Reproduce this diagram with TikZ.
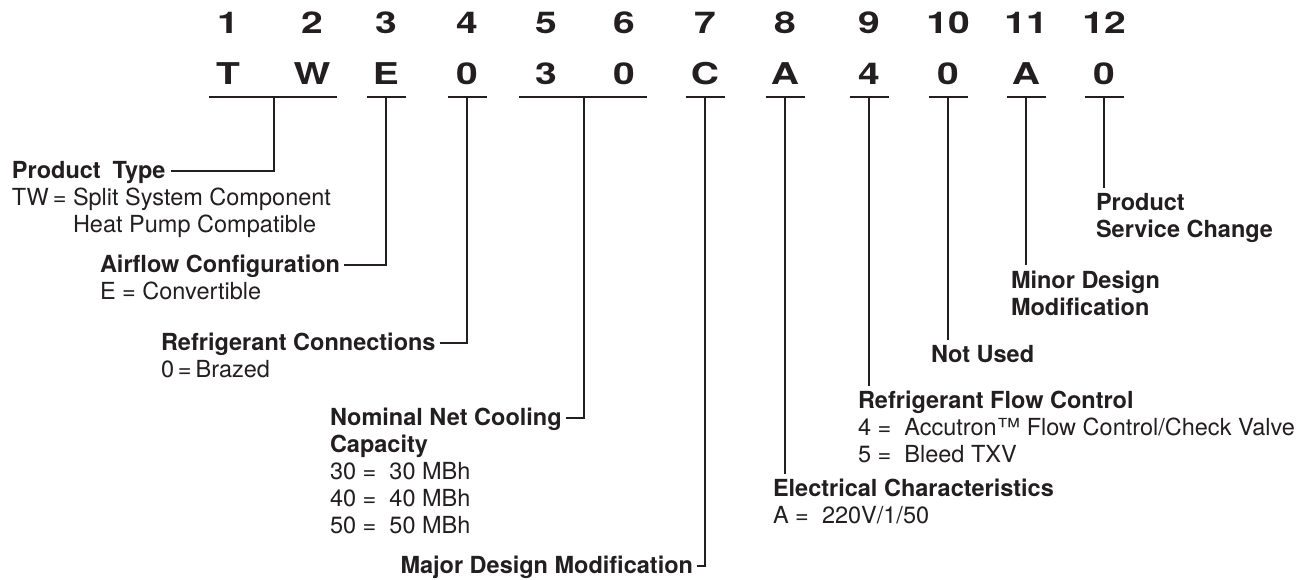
\documentclass[tikz,border=0pt]{standalone}
\usepackage{fontspec}
\setmainfont{TeX Gyre Heros}
\usepackage{graphicx}
\definecolor{ink}{RGB}{35,31,32}
\begin{document}
\begin{tikzpicture}[x=1pt,y=-1pt,
  every node/.style={inner sep=0pt, outer sep=0pt, text=ink},
  digit/.style={font=\fontsize{30}{30}\selectfont\bfseries, anchor=base},
  head/.style={font=\fontsize{23.5}{27}\selectfont\bfseries, anchor=base west},
  body/.style={font=\fontsize{23.5}{27}\selectfont, anchor=base west},
  wire/.style={draw=ink, line width=1.8pt},
]
\useasboundingbox[fill=white] (0,0) rectangle (1303,579);

% digit positions and code letters
\foreach \i/\x/\c in {1/228/T, 2/312/W, 3/386/E, 4/467/0, 5/546/3, 6/624/0,
                      7/705/C, 8/785/A, 9/869/4, 10/948/0, 11/1026/A, 12/1104/0} {
  \node[digit] (n\i) at (\x,33) {\scalebox{1.3}[1]{\i}};
  \node[digit] (c\i) at (\x,84) {\scalebox{1.3}[1]{\c}};
}

% junction points on the underlines
\coordinate (jTW) at (274,97);
\coordinate (j3)  at (386,97);
\coordinate (j4)  at (467,97);
\coordinate (j56) at (584,97);
\coordinate (j7)  at (705,97);
\coordinate (j8)  at (785,97);
\coordinate (j9)  at (869,97);
\coordinate (j10) at (948,97);
\coordinate (j11) at (1026,97);
\coordinate (j12) at (1104,97);

% underlines
\draw[wire] ([xshift=-65pt]jTW) -- ([xshift=63pt]jTW);
\draw[wire] ([xshift=-65pt]j56) -- ([xshift=63pt]j56);
\foreach \j in {j3,j4,j7,j8,j9,j10,j11,j12}
  \draw[wire] ([xshift=-19.5pt]\j) -- ([xshift=19.5pt]\j);

% labels, left group
\node[head] (pt)  at (12,178) {Product\hspace{0.5em}Type};
\node[body] (ptk) at (12,205) {TW\,=};
\node[body] (pt1) at (73,205) {Split System Component};
\node[body] (pt2) at (73,232) {Heat Pump Compatible};

\node[head] (af)  at (100,272) {Airflow Configuration};
\node[body] (af1) at (100,299) {E = Convertible};

\node[head] (rc)  at (161,350) {Refrigerant Connections};
\node[body] (rc1) at (161,377) {0\,=\,Brazed};

\node[head] (nn)  at (330,425) {Nominal Net Cooling};
\node[head] (nn1) at (330,452) {Capacity};
\node[body] (nn2) at (330,479) {30 =\ \ 30 MBh};
\node[body] (nn3) at (330,506) {40 =\ \ 40 MBh};
\node[body] (nn4) at (330,533) {50 =\ \ 50 MBh};

\node[head, anchor=base east] (md) at (693,573) {Major Design Modification};

% labels, right group
\node[head] (ec)  at (773,496) {Electrical Characteristics};
\node[body] (ec1) at (773,523) {A =\ \ 220V/1/50};

\node[head] (rf)  at (858,408) {Refrigerant Flow Control};
\node[body] (rf1) at (858,435) {4 =\ \ Accutron™ Flow Control/Check Valve};
\node[body] (rf2) at (858,462) {5 =\ \ Bleed TXV};

\node[head] (nu)  at (931,362) {Not Used};

\node[head] (mi)  at (1011,288) {Minor Design};
\node[head] (mi1) at (1011,315) {Modification};

\node[head] (ps)  at (1096,210) {Product};
\node[head] (ps1) at (1096,237) {Service Change};

% connectors
\draw[wire] ([shift={(5,-7)}]pt.base east) -| (jTW);
\draw[wire] ([shift={(4,-7)}]af.base east) -| (j3);
\draw[wire] ([shift={(4,-7)}]rc.base east) -| (j4);
\draw[wire] ([shift={(4,-7)}]nn.base east) -| (j56);
\draw[wire] ([shift={(4,-7)}]md.base east) -| (j7);
\draw[wire] (j8)  -- ([yshift=5pt]j8 |- ec.north);
\draw[wire] (j9)  -- ([yshift=5pt]j9 |- rf.north);
\draw[wire] (j10) -- ([yshift=5pt]j10 |- nu.north);
\draw[wire] (j11) -- ([yshift=5pt]j11 |- mi.north);
\draw[wire] (j12) -- ([yshift=5pt]j12 |- ps.north);
\end{tikzpicture}
\end{document}
